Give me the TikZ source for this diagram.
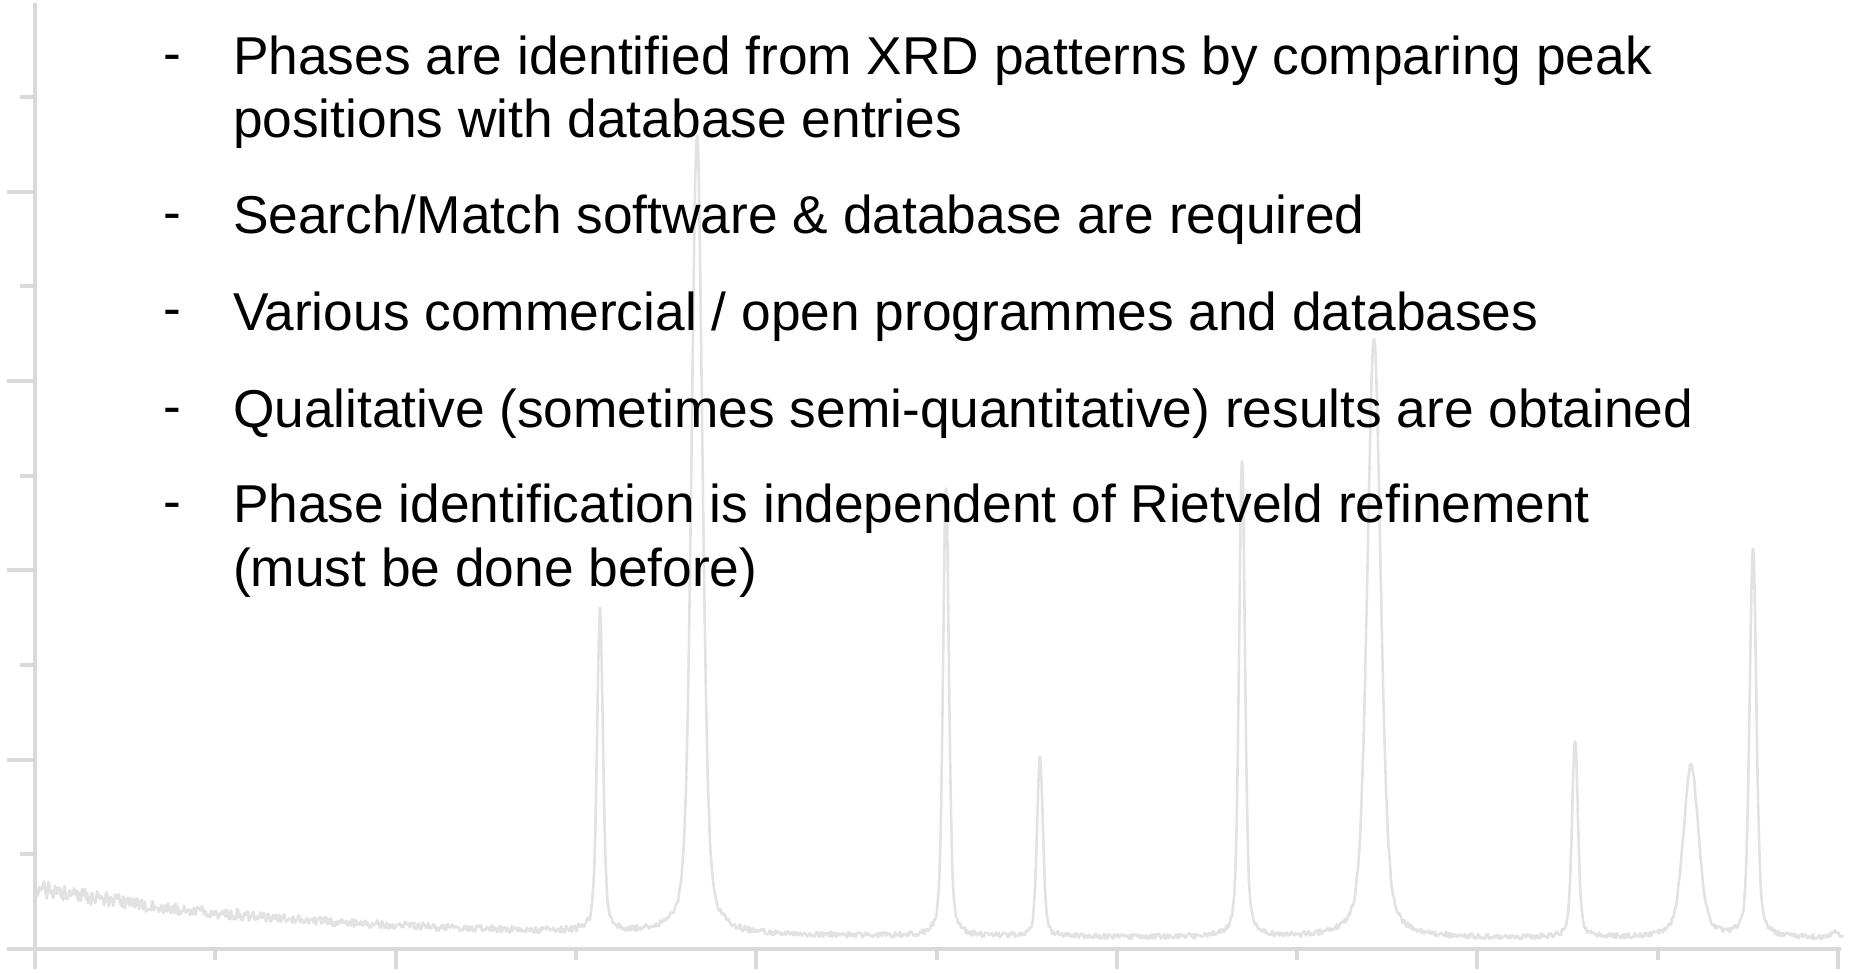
\documentclass[tikz,border=0pt]{standalone}
\usepackage{fontspec}
\setmainfont{Liberation Sans}
\definecolor{axisgray}{RGB}{217,217,217}
\definecolor{scangray}{RGB}{226,226,226}

\begin{document}
\begin{tikzpicture}[x=0.5pt, y=-0.5pt,
    every node/.style={inner sep=0pt, outer sep=0pt, anchor=base west,
      font=\fontsize{26.65pt}{31.5pt}\selectfont},
    axis/.style={draw=axisgray, line width=2pt},
    scan/.style={draw=scangray, line width=1.3pt, line join=round},
    declare function={
      pv(\x,\c,\h,\w)=\h*(0.4/(1+(min(abs(\x-\c)/\w,100))^2)+0.6*exp(-0.693*(min(abs(\x-\c)/\w,4.5))^2));
      bg(\x)=938-50*exp(-(\x-35)/260);
      ns(\x)=2.6+6*exp(-(\x-35)/250);
    }]
  \useasboundingbox (0,0) rectangle (1853,973);
  \pgfmathsetseed{4711}

  % diffraction scan
  \draw[scan] plot[domain=35:1843, samples=1809, smooth=false]
    (\x, {bg(\x) - pv(\x,600,320,3.5) - pv(\x,697,800,6.5) - pv(\x,946,450,3.5)
      - pv(\x,1040,178,3.5) - pv(\x,1242,478,3.5) - pv(\x,1374,600,8)
      - pv(\x,1575,198,3.5) - pv(\x,1691,172,9) - pv(\x,1753,390,4)
      - pv(\x,1834,6,4) + ns(\x)*rand});

  % axes
  \draw[axis] (35,3) -- (35,969);
  \draw[axis] (7,949) -- (1841,949);
  \foreach \k in {0,2,4,6,8,10}
    \draw[axis] (35+180.3*\k,949) -- (35+180.3*\k,969);
  \foreach \k in {1,3,5,7,9}
    \draw[axis] (35+180.3*\k,949) -- (35+180.3*\k,960);
  \foreach \k in {2,4,6,8}
    \draw[axis] (7,949-94.65*\k) -- (35,949-94.65*\k);
  \foreach \k in {1,3,5,7,9}
    \draw[axis] (20,949-94.65*\k) -- (35,949-94.65*\k);

  % bullet points
  \node (d1) at (163,72) {-};
  \node (t1) at (233,75) {Phases are identified from XRD patterns by comparing peak};
  \node (t1b) at (233,138) {positions with database entries};
  \node (d2) at (163,231) {-};
  \node (t2) at (233,234) {Search/Match software \& database are required};
  \node (d3) at (163,327) {-};
  \node (t3) at (233,330) {Various commercial / open programmes and databases};
  \node (d4) at (163,424) {-};
  \node (t4) at (233,427) {Qualitative (sometimes semi-quantitative) results are obtained};
  \node (d5) at (163,519) {-};
  \node (t5) at (233,522) {Phase identification is independent of Rietveld refinement};
  \node (t5b) at (233,586) {(must be done before)};
\end{tikzpicture}
\end{document}
